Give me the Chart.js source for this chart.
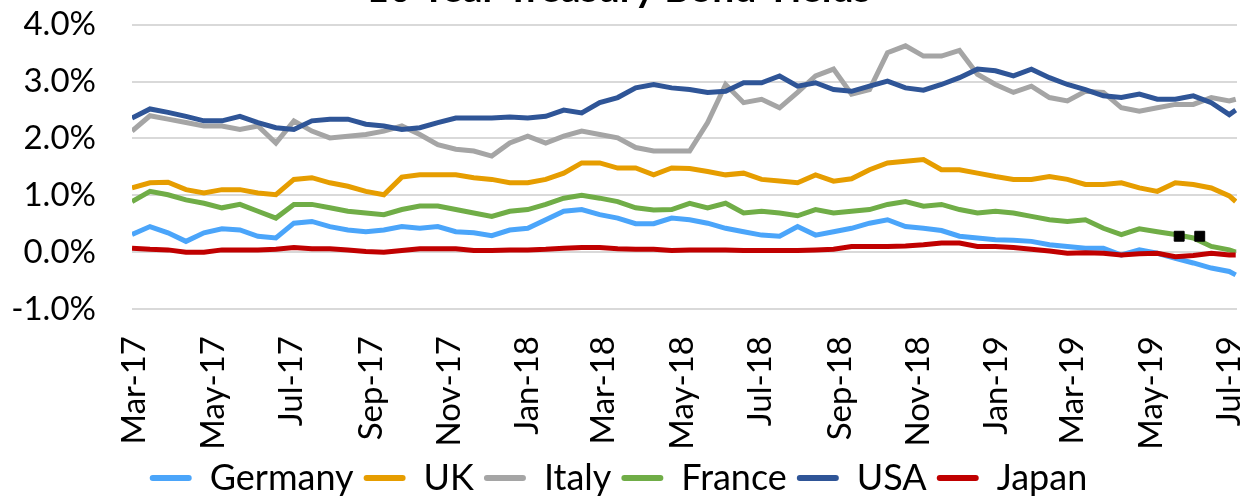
<!DOCTYPE html>
<html>
<head>
<meta charset="utf-8">
<script src="https://cdn.jsdelivr.net/npm/chart.js@4.4.0/dist/chart.umd.min.js"></script>
<style>
  html, body { margin: 0; padding: 0; background: #fff; overflow: hidden; }
  #wrap { position: absolute; left: 0; top: -34px; width: 1249px; height: 540px; }
</style>
</head>
<body>
<div id="wrap"><canvas id="myChart"></canvas></div>
<script>
// x = days since 1 Mar 2017, one reading about every two weeks
const days = [];
for (let d = -2; d <= 852; d += 14) days.push(d);
days.push(857);

const tickDays = [0, 61, 122, 184, 245, 306, 365, 426, 487, 549, 610, 671, 730, 791, 852];
const tickLabels = ["Mar-17", "May-17", "Jul-17", "Sep-17", "Nov-17", "Jan-18", "Mar-18",
  "May-18", "Jul-18", "Sep-18", "Nov-18", "Jan-19", "Mar-19", "May-19", "Jul-19"];

const germany = [0.31, 0.45, 0.34, 0.19, 0.34, 0.41, 0.39, 0.28, 0.25, 0.51, 0.54, 0.45, 0.39, 0.36, 0.39, 0.45,
  0.42, 0.45, 0.36, 0.34, 0.29, 0.39, 0.42, 0.57, 0.72, 0.75, 0.66, 0.60, 0.50, 0.50, 0.60, 0.57,
  0.51, 0.42, 0.36, 0.30, 0.28, 0.45, 0.30, 0.36, 0.42, 0.51, 0.57, 0.45, 0.42, 0.38, 0.28, 0.25,
  0.22, 0.21, 0.19, 0.13, 0.10, 0.07, 0.07, -0.05, 0.04, -0.02, -0.11, -0.19, -0.28, -0.34, -0.40];
const uk = [1.13, 1.22, 1.23, 1.10, 1.04, 1.10, 1.10, 1.04, 1.01, 1.28, 1.31, 1.22, 1.16, 1.07, 1.01, 1.32,
  1.36, 1.36, 1.36, 1.31, 1.28, 1.22, 1.22, 1.28, 1.39, 1.57, 1.57, 1.48, 1.48, 1.36, 1.48, 1.47,
  1.42, 1.36, 1.39, 1.28, 1.25, 1.22, 1.36, 1.25, 1.29, 1.45, 1.57, 1.60, 1.63, 1.45, 1.45, 1.39,
  1.33, 1.28, 1.28, 1.33, 1.28, 1.19, 1.19, 1.22, 1.13, 1.07, 1.22, 1.19, 1.13, 0.99, 0.89];
const italy = [2.13, 2.40, 2.34, 2.28, 2.22, 2.22, 2.16, 2.22, 1.92, 2.31, 2.13, 2.01, 2.04, 2.07, 2.13, 2.22,
  2.07, 1.89, 1.81, 1.78, 1.69, 1.92, 2.04, 1.92, 2.04, 2.13, 2.07, 2.01, 1.84, 1.78, 1.78, 1.78,
  2.28, 2.95, 2.63, 2.69, 2.54, 2.81, 3.10, 3.22, 2.78, 2.86, 3.51, 3.63, 3.45, 3.45, 3.55, 3.13,
  2.95, 2.81, 2.92, 2.72, 2.66, 2.83, 2.81, 2.54, 2.48, 2.54, 2.60, 2.60, 2.72, 2.66, 2.69];
const france = [0.89, 1.07, 1.01, 0.92, 0.86, 0.78, 0.84, 0.72, 0.60, 0.84, 0.84, 0.78, 0.72, 0.69, 0.66, 0.75,
  0.81, 0.81, 0.75, 0.69, 0.63, 0.72, 0.75, 0.84, 0.95, 1.00, 0.95, 0.89, 0.78, 0.74, 0.75, 0.86,
  0.78, 0.86, 0.69, 0.72, 0.69, 0.64, 0.75, 0.69, 0.72, 0.75, 0.84, 0.89, 0.81, 0.84, 0.75, 0.69,
  0.72, 0.69, 0.63, 0.57, 0.54, 0.57, 0.42, 0.31, 0.41, 0.36, 0.31, 0.25, 0.10, 0.04, 0.00];
const usa = [2.36, 2.52, 2.46, 2.39, 2.31, 2.31, 2.39, 2.28, 2.19, 2.16, 2.31, 2.34, 2.34, 2.25, 2.22, 2.16,
  2.19, 2.28, 2.36, 2.36, 2.36, 2.38, 2.36, 2.39, 2.50, 2.45, 2.63, 2.72, 2.89, 2.95, 2.89, 2.86,
  2.81, 2.83, 2.98, 2.98, 3.10, 2.92, 2.98, 2.86, 2.83, 2.92, 3.01, 2.89, 2.85, 2.95, 3.07, 3.22,
  3.19, 3.10, 3.22, 3.07, 2.95, 2.86, 2.75, 2.72, 2.78, 2.69, 2.69, 2.75, 2.63, 2.42, 2.50];
const japan = [0.07, 0.05, 0.04, 0.00, 0.00, 0.04, 0.04, 0.04, 0.05, 0.08, 0.06, 0.06, 0.04, 0.01, 0.00, 0.03,
  0.06, 0.06, 0.06, 0.03, 0.03, 0.04, 0.04, 0.05, 0.07, 0.08, 0.08, 0.06, 0.05, 0.05, 0.03, 0.04,
  0.04, 0.04, 0.03, 0.03, 0.03, 0.03, 0.04, 0.05, 0.10, 0.10, 0.10, 0.11, 0.13, 0.16, 0.16, 0.10,
  0.10, 0.08, 0.05, 0.02, -0.02, -0.01, -0.02, -0.05, -0.03, -0.02, -0.08, -0.06, -0.02, -0.05, -0.05];

// two stray black marks near the end of the France line
const markDays = [813, 829];
const markValues = [0.28, 0.28];

const names = ["Germany", "UK", "Italy", "France", "USA", "Japan"];
const colors = ["#4BA5FA", "#E69D00", "#A5A5A5", "#70AD47", "#2F5597", "#C00000"];
const series = [germany, uk, italy, france, usa, japan];

Chart.defaults.font.family = "Lato";
Chart.defaults.color = "#000";

const datasets = series.map((vals, i) => ({
  label: names[i],
  data: vals.map((v, j) => ({ x: days[j], y: v })),
  borderColor: colors[i],
  backgroundColor: colors[i],
  borderWidth: 5,
  pointRadius: 0,
  tension: 0,
  order: -i, // later series drawn on top, like Excel
}));

datasets.push({
  label: "",
  data: markDays.map((d, j) => ({ x: d, y: markValues[j] })),
  showLine: false,
  pointStyle: "rect",
  pointRadius: 7,
  backgroundColor: "#000",
  borderColor: "#000",
  order: -10,
});

const config = {
  type: "line",
  data: { datasets: datasets },
  options: {
    responsive: true,
    maintainAspectRatio: false,
    animation: false,
    layout: { padding: { left: 0, right: 12, top: 0, bottom: 0 } },
    plugins: {
      title: {
        display: true,
        text: "10 Year Treasury Bond Yields",
        font: { size: 39, weight: "bold" },
        color: "#000",
        padding: { top: 0, bottom: 12 },
      },
      legend: {
        position: "bottom",
        labels: {
          font: { size: 36 },
          color: "#000",
          boxWidth: 42,
          boxHeight: 6,
          padding: 10,
          useBorderRadius: true,
          borderRadius: 3,
          filter: (item) => item.text !== "",
          sort: (a, b) => a.datasetIndex - b.datasetIndex,
          generateLabels: (chart) =>
            Chart.defaults.plugins.legend.labels.generateLabels(chart).map((l) => Object.assign(l, { lineWidth: 0 })),
        },
      },
      tooltip: { enabled: false },
    },
    scales: {
      x: {
        type: "linear",
        min: -2,
        max: 858,
        grid: { display: false, drawTicks: false },
        border: { display: false },
        afterBuildTicks: (scale) => {
          scale.ticks = tickDays.map((v) => ({ value: v }));
        },
        afterFit: (scale) => {
          scale.paddingLeft = 0;
          scale.paddingRight = 0;
          scale.height = 141;
        },
        ticks: {
          autoSkip: false,
          maxRotation: 90,
          minRotation: 90,
          padding: 27,
          font: { size: 33 },
          callback: (value, index) => tickLabels[index],
        },
      },
      y: {
        min: -1,
        max: 4,
        grid: { color: "#D9D9D9", lineWidth: 2, drawTicks: false },
        border: { display: false },
        afterFit: (scale) => {
          scale.width = 132;
        },
        ticks: {
          stepSize: 1,
          padding: 36,
          font: { size: 33 },
          callback: (v) => v.toFixed(1) + "%",
        },
      },
    },
  },
};

const chart = new Chart(document.getElementById("myChart"), config);
</script>
</body>
</html>
